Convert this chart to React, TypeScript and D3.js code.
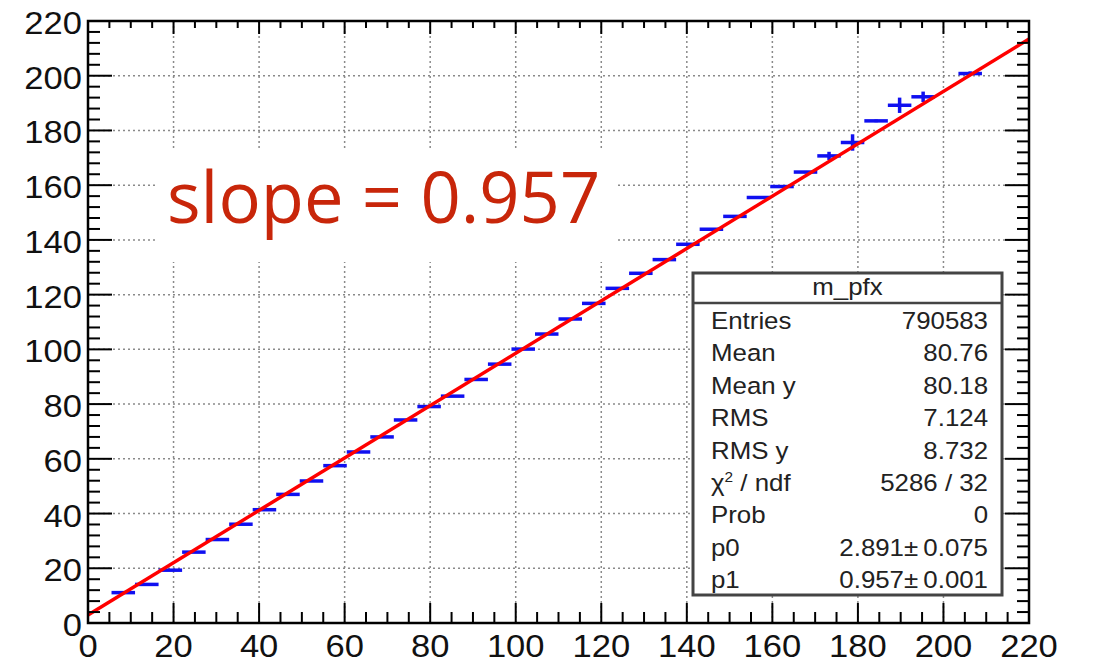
import React from "react";
import * as d3 from "d3";

// ---- data ----
const binCenters = [
  8.25, 13.75, 19.25, 24.75, 30.25, 35.75, 41.25, 46.75, 52.25, 57.75,
  63.25, 68.75, 74.25, 79.75, 85.25, 90.75, 96.25, 101.75, 107.25, 112.75,
  118.25, 123.75, 129.25, 134.75, 140.25, 145.75, 151.25, 156.75, 162.25, 167.75,
  173.25, 178.75, 184.25, 189.75, 195.25, 206.25,
];
const binMeans = [
  11.1, 14.1, 19.3, 25.9, 30.5, 36.1, 41.4, 47.0, 51.9, 57.5,
  62.5, 68.0, 74.2, 79.1, 82.9, 89.0, 94.6, 100.1, 105.6, 111.1,
  116.8, 122.3, 127.8, 132.8, 138.4, 143.9, 148.6, 155.5, 159.5, 164.8,
  170.7, 175.6, 183.5, 189.2, 192.3, 200.8,
];
const binErrors = [
  0.2, 0.2, 0.2, 0.2, 0.2, 0.2, 0.2, 0.2, 0.2, 0.2,
  0.2, 0.2, 0.2, 0.2, 0.2, 0.2, 0.2, 0.2, 0.2, 0.2,
  0.2, 0.2, 0.2, 0.2, 0.2, 0.2, 0.3, 0.3, 0.3, 0.4,
  1.5, 3.0, 0.5, 2.8, 1.9, 0.8,
];
const binWidth = 5.5;
const fitP0 = 2.891;
const fitP1 = 0.957;
const xTicks = [0, 20, 40, 60, 80, 100, 120, 140, 160, 180, 200, 220];
const yTicks = [0, 20, 40, 60, 80, 100, 120, 140, 160, 180, 200, 220];
const statsTitle = "m_pfx";
const statLabels = ["Entries", "Mean", "Mean y", "RMS", "RMS y", "CHI", "Prob", "p0", "p1"];
const statValues = ["790583", "80.76", "80.18", "7.124", "8.732", "5286 / 32", "0", "2.891\u00B1\u20090.075", "0.957\u00B1\u20090.001"];
const annotation = "slope = 0.957";

export default function App() {
  const W = 1093, H = 667;
  const L = 88, R = 1029, T = 21, B = 623;
  const x = d3.scaleLinear().domain([0, 220]).range([L, R]);
  const y = d3.scaleLinear().domain([0, 220]).range([B, T]);

  const xMinor = d3.range(0, 220.01, 5);
  const yMinor = d3.range(0, 220.01, 4);
  const gridX = xTicks.filter((v) => v > 0 && v < 220);
  const gridY = yTicks.filter((v) => v > 0 && v < 220);

  const line = d3.line<number>().x((v) => x(v)).y((v) => y(fitP0 + fitP1 * v));
  const fitXs = [0, 220];

  const font = "'Liberation Sans', Arial, Helvetica, sans-serif";
  const gridStyle = { stroke: "#8a8a8a", strokeWidth: 1.5, strokeDasharray: "2,3" };

  // stats box
  const bx = 693, by = 273, bw = 309, bh = 322, titleH = 30;
  const rowBase = 329, rowStep = 32.4;

  return (
    <svg width={W} height={H} style={{ position: "absolute", left: 0, top: 0, background: "#fff" }}>
      <rect x={0} y={0} width={W} height={H} fill="#fff" />
      {/* grid */}
      {gridX.map((v) => (
        <line key={"gx" + v} x1={x(v)} x2={x(v)} y1={T} y2={B} {...gridStyle} />
      ))}
      {gridY.map((v) => (
        <line key={"gy" + v} x1={L} x2={R} y1={y(v)} y2={y(v)} {...gridStyle} />
      ))}
      {/* annotation box */}
      <rect x={155} y={151} width={460} height={111} fill="#fff" />
      <text x={167} y={223} fontFamily="'Open Sans', 'Noto Sans', sans-serif" fontSize={70.5} fill="#c8260a">
        {annotation}
      </text>

      {/* data points */}
      {binCenters.map((c, i) => (
        <g key={"p" + i} stroke="#1010f0" strokeWidth={3.5}>
          <line x1={x(c - binWidth / 2)} x2={x(c + binWidth / 2)} y1={y(binMeans[i])} y2={y(binMeans[i])} />
          <line x1={x(c)} x2={x(c)} y1={y(binMeans[i] - binErrors[i])} y2={y(binMeans[i] + binErrors[i])} />
        </g>
      ))}

      {/* fit */}
      <path d={line(fitXs) || ""} stroke="#ff0000" strokeWidth={3.5} fill="none" />

      {/* stats box */}
      <rect x={bx} y={by} width={bw} height={bh} fill="#fff" stroke="#444" strokeWidth={3} />
      <line x1={bx} x2={bx + bw} y1={by + titleH} y2={by + titleH} stroke="#444" strokeWidth={2.5} />
      <text transform={`translate(${bx + bw / 2},${by + 22}) scale(1.1,1)`} textAnchor="middle" fontFamily={font} fontSize={23.5} fill="#222">
        {statsTitle}
      </text>
      {statLabels.map((lab, i) => (
        <g key={"s" + i} fontFamily={font} fontSize={23.5} fill="#222">
          <text transform={`translate(${711},${rowBase + i * rowStep}) scale(1.1,1)`}>
            {lab === "CHI" ? (
              <>
                <tspan>{"\u03C7"}</tspan>
                <tspan fontSize={14} dy={-9}>2</tspan>
                <tspan dy={9}>{" / ndf"}</tspan>
              </>
            ) : (
              lab
            )}
          </text>
          <text transform={`translate(${988},${rowBase + i * rowStep}) scale(1.1,1)`} textAnchor="end">
            {statValues[i]}
          </text>
        </g>
      ))}

      {/* frame */}
      <rect x={L} y={T} width={R - L} height={B - T} fill="none" stroke="#000" strokeWidth={2.5} />
      {/* ticks */}
      <g stroke="#000" strokeWidth={2}>
        {xMinor.map((v) => {
          const major = v % 20 === 0;
          return (
            <g key={"xt" + v}>
              <line x1={x(v)} x2={x(v)} y1={B} y2={B - (major ? 20 : 11)} />
              <line x1={x(v)} x2={x(v)} y1={T} y2={T + (major ? 13 : 7)} />
            </g>
          );
        })}
        {yMinor.map((v) => {
          const major = v % 20 === 0;
          return (
            <g key={"yt" + v}>
              <line x1={L} x2={L + (major ? 24 : 12)} y1={y(v)} y2={y(v)} />
              <line x1={R} x2={R - (major ? 24 : 12)} y1={y(v)} y2={y(v)} />
            </g>
          );
        })}
      </g>
      {/* tick labels */}
      <g fontFamily={font} fontSize={32} fill="#111">
        {xTicks.map((v) => (
          <text key={"xl" + v} transform={`translate(${x(v)},${657}) scale(1.08,1)`} textAnchor="middle">
            {v}
          </text>
        ))}
        {yTicks.map((v) => (
          <text key={"yl" + v} transform={`translate(${82},${y(v) + 13}) scale(1.08,1)`} textAnchor="end">
            {v}
          </text>
        ))}
      </g>
    </svg>
  );
}
